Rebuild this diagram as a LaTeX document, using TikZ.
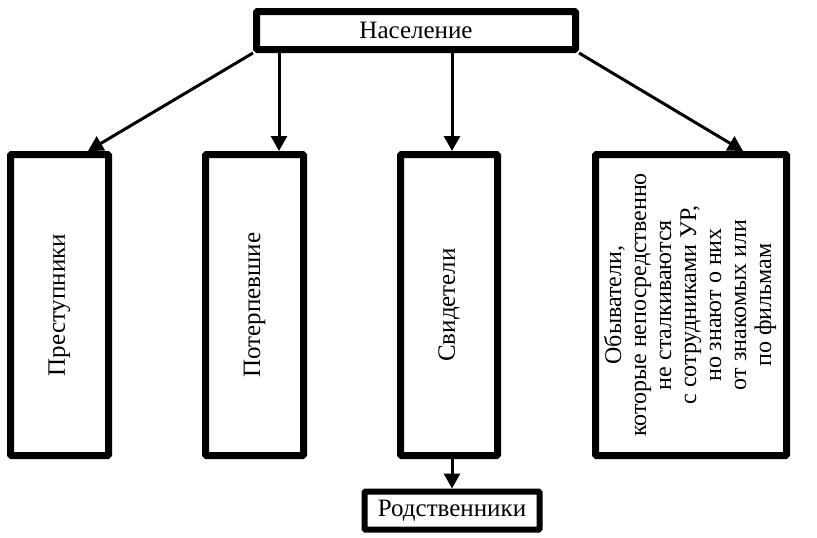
\documentclass[tikz,border=0pt]{standalone}
\usepackage{fontspec}
\setmainfont{Liberation Serif}
\usetikzlibrary{arrows.meta}

\tikzset{
  bigbox/.style={draw, line width=3.5pt, rounded corners=0.5pt, inner sep=0pt,
    font=\fontsize{12.5}{12.5}\selectfont},
  smallbox/.style={bigbox, line width=3pt},
  link/.style={line width=1.5pt, -{Triangle[length=7.5pt,width=8pt]}},
}

\begin{document}
\begin{tikzpicture}[x=0.5pt, y=-0.5pt]
  \useasboundingbox (0,0) rectangle (817,537);
  % top node
  \node[bigbox, minimum width=159.5pt, minimum height=19pt] (pop) at (416,30.5) {Население};
  % four columns
  \node[bigbox, minimum width=49pt, minimum height=150.5pt] (crim) at (59.5,305)
    {\rotatebox{90}{Преступники}};
  \node[bigbox, minimum width=49pt, minimum height=150.5pt] (vict) at (254.5,305)
    {\rotatebox{90}{Потерпевшие}};
  \node[bigbox, minimum width=48.5pt, minimum height=150.5pt] (wit) at (449,305)
    {\rotatebox{90}{Свидетели}};
  \node[bigbox, minimum width=95.5pt, minimum height=150.5pt] (obyv) at (691,305)
    {\rotatebox{90}{\fontsize{12}{12.5}\selectfont\begin{tabular}{@{}c@{}}
      Обыватели,\\
      которые непосредственно\\
      не сталкиваются\\
      с сотрудниками УР,\\
      но знают о них\\
      от знакомых или\\
      по фильмам
    \end{tabular}}};
  % bottom node
  \node[smallbox, minimum width=87.5pt, minimum height=19pt] (rel) at (452,510.5) {Родственники};

  % connectors
  \draw[link] (pop.south west) -- ([xshift=14.25pt]crim.north);
  \draw[link] ([xshift=12.25pt]vict.north |- pop.south) -- ([xshift=12.25pt]vict.north);
  \draw[link] ([xshift=1.5pt]wit.north |- pop.south) -- ([xshift=1.5pt]wit.north);
  \draw[link] (pop.south east) -- ([xshift=26pt]obyv.north);
  \draw[link] ([xshift=1.5pt]wit.south) -- ([xshift=1.5pt]wit.south |- rel.north);
\end{tikzpicture}
\end{document}
